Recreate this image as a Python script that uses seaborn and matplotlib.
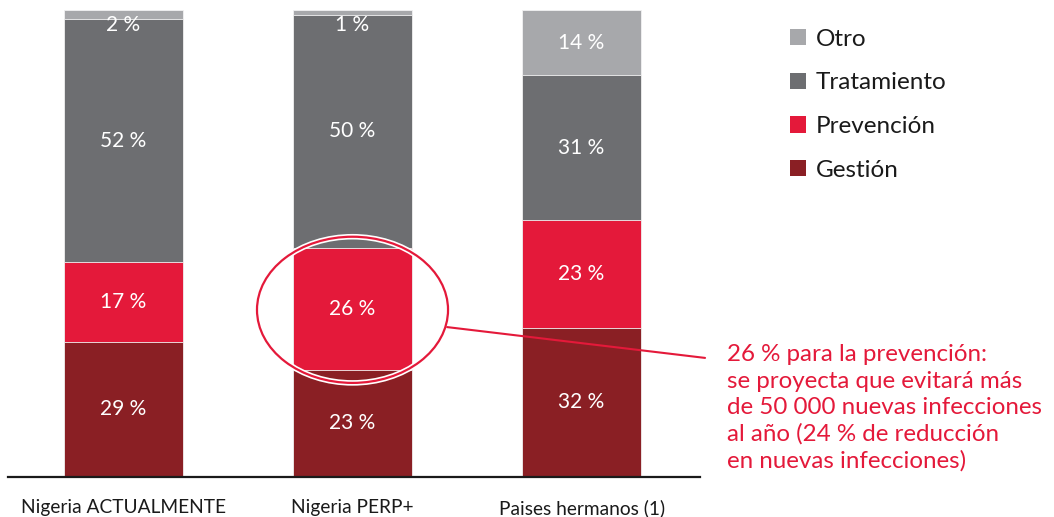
import numpy as np
import pandas as pd
import matplotlib
matplotlib.use("Agg")
import matplotlib.pyplot as plt
import matplotlib.patheffects as pe
from matplotlib.patches import Ellipse, Patch
import seaborn as sns

# datos
categorias = ['Nigeria ACTUALMENTE', 'Nigeria PERP+', 'Paises hermanos (1)']
gestion = [29, 23, 32]
prevencion = [17, 26, 23]
tratamiento = [52, 50, 31]
otro = [2, 1, 14]

series = ['Gestión', 'Prevención', 'Tratamiento', 'Otro']
colores = ['#8A1F24', '#E4193A', '#6D6E71', '#A7A8AB']

df = pd.DataFrame({'cat': categorias, 'Gestión': gestion, 'Prevención': prevencion,
                   'Tratamiento': tratamiento, 'Otro': otro})

sns.set_style("white")
plt.rcParams['font.family'] = ['Lato', 'DejaVu Sans']

fig = plt.figure(figsize=(10.54, 5.17), dpi=100)
ax = fig.add_axes([8 / 1054, 40 / 517, 692 / 1054, 467 / 517])

# apilado: dibujar de arriba hacia abajo con sumas acumuladas
acum = df[series].cumsum(axis=1)
for s, c in zip(reversed(series), reversed(colores)):
    sns.barplot(x=df['cat'], y=acum[s], color=c, width=0.52, ax=ax,
                edgecolor='#F2F2F2', linewidth=0.6, saturation=1)

# etiquetas de valores
for i, row in df.iterrows():
    base = 0
    for s in series:
        v = row[s]
        y = 96.8 if v < 5 else base + v / 2
        ax.text(i, y, f'{v} %', ha='center', va='center', color='white', fontsize=15)
        base += v

ax.set_xlim(-0.504, 2.517)
ax.set_ylim(0, 100)
ax.set_xlabel('')
ax.set_ylabel('')
ax.set_yticks([])
for sp in ['top', 'right', 'left']:
    ax.spines[sp].set_visible(False)
ax.spines['bottom'].set_color('#1A1A1A')
ax.spines['bottom'].set_linewidth(1.6)
ax.tick_params(axis='x', length=0, pad=16, labelsize=13.8, labelcolor='#1A1A1A')

# elipse y anotación
rojo = '#E4193A'
el = Ellipse((1.0, 35.8), 0.834, 31.3, fill=False, edgecolor=rojo, linewidth=1.6,
             clip_on=False, zorder=5,
             path_effects=[pe.Stroke(linewidth=4, foreground='white'), pe.Normal()])
ax.add_patch(el)
ax.plot([1.413, 2.539], [32.1, 25.5], color=rojo, linewidth=1.5, clip_on=False, zorder=5)
ax.text(2.635, 28.4,
        '26 % para la prevención:\nse proyecta que evitará más\nde 50 000 nuevas infecciones\n'
        'al año (24 % de reducción\nen nuevas infecciones)',
        color=rojo, fontsize=17.4, ha='left', va='top', linespacing=1.31, clip_on=False)

# leyenda
handles = [Patch(facecolor=c, edgecolor='none') for c in reversed(colores)]
fig.legend(handles, list(reversed(series)), loc='upper left',
           bbox_to_anchor=(768 / 1054, 1 - 7 / 517), frameon=False, fontsize=17.5,
           handlelength=0.65, handleheight=0.65, handletextpad=0.4, labelspacing=0.93,
           labelcolor='#1A1A1A')

fig.savefig('out.png', dpi=100)
